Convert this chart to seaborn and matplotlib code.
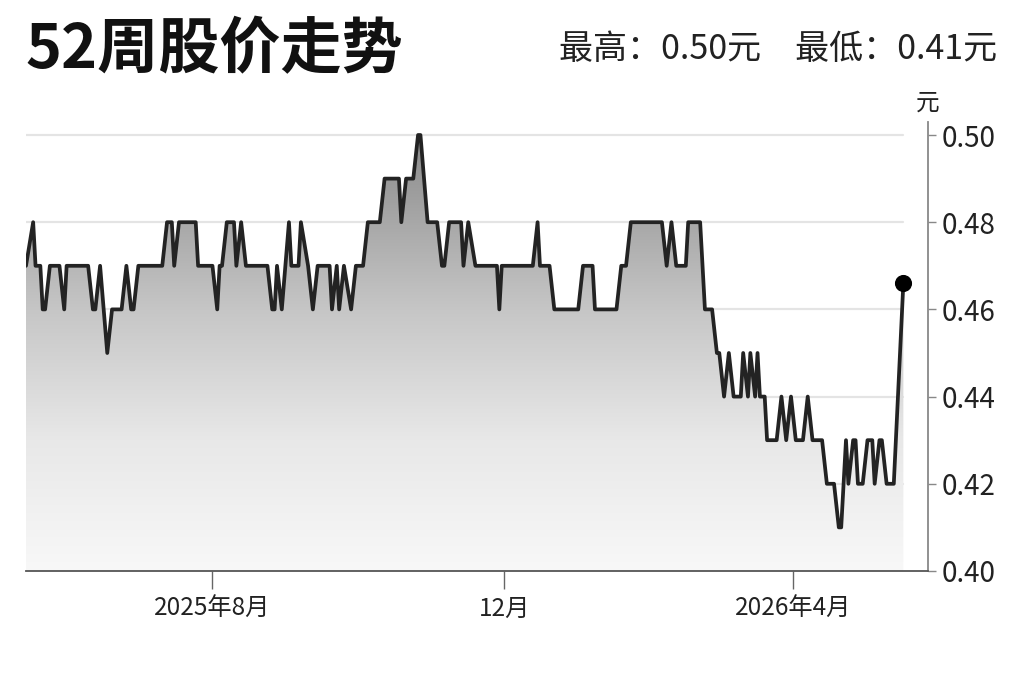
import matplotlib
matplotlib.use('Agg')
import matplotlib.pyplot as plt
import matplotlib.dates as mdates
from matplotlib.colors import LinearSegmentedColormap
import numpy as np
import pandas as pd
import seaborn as sns

# Price path (turning points)
dates = [
    '2025-05-15', '2025-05-18', '2025-05-19', '2025-05-21', '2025-05-22', '2025-05-23',
    '2025-05-25', '2025-05-29', '2025-05-31', '2025-06-01', '2025-06-10', '2025-06-12',
    '2025-06-13', '2025-06-15', '2025-06-18', '2025-06-20', '2025-06-24', '2025-06-26',
    '2025-06-28', '2025-06-29', '2025-07-01', '2025-07-11', '2025-07-13', '2025-07-15',
    '2025-07-16', '2025-07-18', '2025-07-25', '2025-07-26', '2025-08-01', '2025-08-03',
    '2025-08-04', '2025-08-05', '2025-08-07', '2025-08-10', '2025-08-11', '2025-08-13',
    '2025-08-15', '2025-08-24', '2025-08-26', '2025-08-27', '2025-08-28', '2025-08-30',
    '2025-09-02', '2025-09-03', '2025-09-06', '2025-09-07', '2025-09-10', '2025-09-12',
    '2025-09-14', '2025-09-19', '2025-09-20', '2025-09-22', '2025-09-23', '2025-09-25',
    '2025-09-28', '2025-09-30', '2025-10-03', '2025-10-05', '2025-10-10', '2025-10-12',
    '2025-10-18', '2025-10-19', '2025-10-21', '2025-10-24', '2025-10-26', '2025-10-27',
    '2025-10-30', '2025-11-03', '2025-11-05', '2025-11-06', '2025-11-08', '2025-11-13',
    '2025-11-14', '2025-11-16', '2025-11-19', '2025-11-28', '2025-11-29', '2025-11-30',
    '2025-12-13', '2025-12-15', '2025-12-16', '2025-12-20', '2025-12-22', '2026-01-01',
    '2026-01-03', '2026-01-07', '2026-01-08', '2026-01-17', '2026-01-19', '2026-01-21',
    '2026-01-23', '2026-02-05', '2026-02-07', '2026-02-09', '2026-02-11', '2026-02-15',
    '2026-02-16', '2026-02-21', '2026-02-23', '2026-02-26', '2026-02-28', '2026-03-01',
    '2026-03-03', '2026-03-05', '2026-03-07', '2026-03-10', '2026-03-11', '2026-03-13',
    '2026-03-14', '2026-03-16', '2026-03-17', '2026-03-18', '2026-03-20', '2026-03-21',
    '2026-03-25', '2026-03-27', '2026-03-29', '2026-03-31', '2026-04-02', '2026-04-05',
    '2026-04-07', '2026-04-09', '2026-04-13', '2026-04-15', '2026-04-18', '2026-04-20',
    '2026-04-21', '2026-04-23', '2026-04-24', '2026-04-26', '2026-04-27', '2026-04-28',
    '2026-04-30', '2026-05-02', '2026-05-04', '2026-05-05', '2026-05-07', '2026-05-08',
    '2026-05-10', '2026-05-13', '2026-05-17',
]
prices = [
    0.47, 0.48, 0.47, 0.47, 0.46, 0.46,
    0.47, 0.47, 0.46, 0.47, 0.47, 0.46,
    0.46, 0.47, 0.45, 0.46, 0.46, 0.47,
    0.46, 0.46, 0.47, 0.47, 0.48, 0.48,
    0.47, 0.48, 0.48, 0.47, 0.47, 0.46,
    0.47, 0.47, 0.48, 0.48, 0.47, 0.48,
    0.47, 0.47, 0.46, 0.46, 0.47, 0.46,
    0.48, 0.47, 0.47, 0.48, 0.47, 0.46,
    0.47, 0.47, 0.46, 0.47, 0.46, 0.47,
    0.46, 0.47, 0.47, 0.48, 0.48, 0.49,
    0.49, 0.48, 0.49, 0.49, 0.50, 0.50,
    0.48, 0.48, 0.47, 0.47, 0.48, 0.48,
    0.47, 0.48, 0.47, 0.47, 0.46, 0.47,
    0.47, 0.48, 0.47, 0.47, 0.46, 0.46,
    0.47, 0.47, 0.46, 0.46, 0.47, 0.47,
    0.48, 0.48, 0.47, 0.48, 0.47, 0.47,
    0.48, 0.48, 0.46, 0.46, 0.45, 0.45,
    0.44, 0.45, 0.44, 0.44, 0.45, 0.44,
    0.45, 0.44, 0.45, 0.44, 0.44, 0.43,
    0.43, 0.44, 0.43, 0.44, 0.43, 0.43,
    0.44, 0.43, 0.43, 0.42, 0.42, 0.41,
    0.41, 0.43, 0.42, 0.43, 0.43, 0.42,
    0.42, 0.43, 0.43, 0.42, 0.43, 0.43,
    0.42, 0.42, 0.466,
]

tick_dates = ['2025-08-01', '2025-12-01', '2026-04-01']
tick_labels = ['2025年8月', '12月', '2026年4月']
y_ticks = [0.40, 0.42, 0.44, 0.46, 0.48, 0.50]

df = pd.DataFrame({'date': pd.to_datetime(dates), 'price': prices})

sns.set_style('white')
plt.rcParams['font.family'] = ['Noto Sans CJK SC', 'DejaVu Sans']

fig = plt.figure(figsize=(10.23, 6.82), dpi=100)
ax = fig.add_axes([0.0254, 0.1628, 0.8817, 0.6584])

x0 = pd.Timestamp('2025-05-15 00:00')
x1 = pd.Timestamp('2026-05-27 07:00')
ylo, yhi = 0.40, 0.503

# gradient area under the line
poly = ax.fill_between(df['date'], df['price'], ylo, facecolor='none', edgecolor='none')
cmap = LinearSegmentedColormap.from_list(
    'g', [(0.0, '#f8f8f8'), (0.3, '#e8e8e8'), (0.6, '#c6c6c6'), (1.0, '#8a8a8a')])
grad = np.linspace(0, 1, 256).reshape(-1, 1)
im = ax.imshow(grad, extent=[mdates.date2num(x0), mdates.date2num(x1), ylo, 0.50],
               origin='lower', aspect='auto', cmap=cmap, zorder=1)
im.set_clip_path(poly.get_paths()[0], transform=ax.transData)

# grid lines
for yv in y_ticks[1:]:
    ax.axhline(yv, xmin=0, xmax=0.972, color='#e4e4e4', lw=1.6, zorder=0.5)

sns.lineplot(data=df, x='date', y='price', ax=ax, color='#232323', linewidth=2.7, zorder=3)
sns.scatterplot(x=df['date'].iloc[-1:], y=df['price'].iloc[-1:], ax=ax, color='black',
                s=130, edgecolor='black', zorder=4)

ax.set_xlim(x0, x1)
ax.set_ylim(ylo, yhi)
ax.set_xlabel('')
ax.set_ylabel('')

ax.set_xticks(pd.to_datetime(tick_dates))
ax.set_xticklabels(tick_labels, fontsize=17.5, color='#222222')
ax.yaxis.tick_right()
ax.set_yticks(y_ticks)
ax.set_yticklabels([f'{v:.2f}' for v in y_ticks], fontsize=20, color='#222222')
ax.tick_params(axis='x', length=13, width=1, color='#666666', pad=5, bottom=True)
ax.tick_params(axis='y', length=6, width=1, color='#888888', pad=4, right=True, left=False)

for s in ['left', 'top']:
    ax.spines[s].set_visible(False)
ax.spines['bottom'].set_color('#555555')
ax.spines['bottom'].set_linewidth(1.3)
ax.spines['right'].set_color('#888888')
ax.spines['right'].set_linewidth(1.3)

fig.text(25 / 1023, 1 - 50 / 682, '52周股价走势', fontsize=44, fontweight='bold',
         ha='left', va='center', color='#111111')
fig.text(997 / 1023, 1 - 49 / 682, '最高：0.50元　最低：0.41元', fontsize=24.5,
         ha='right', va='center', color='#222222')
fig.text(928 / 1023, 1 - 103 / 682, '元', fontsize=17, ha='center', va='center',
         color='#222222')

fig.savefig('out.png', dpi=100)
